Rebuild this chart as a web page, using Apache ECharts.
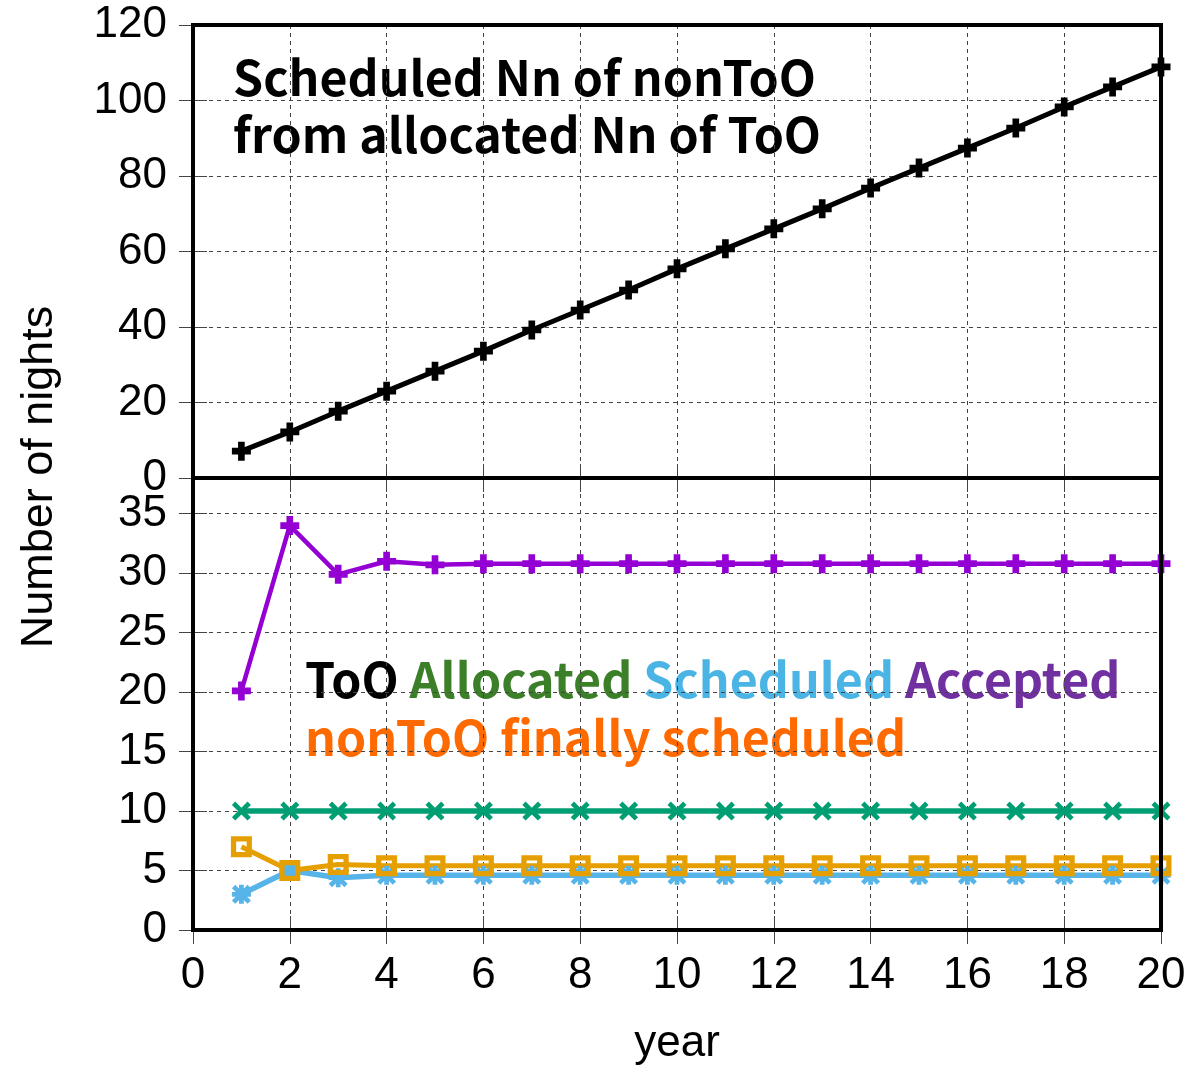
<!DOCTYPE html>
<html>
<head>
<meta charset="utf-8">
<script src="https://cdn.jsdelivr.net/npm/echarts@6/dist/echarts.min.js"></script>
<style>html,body{margin:0;padding:0;background:#fff;}#chart{width:1194px;height:1067px;}</style>
</head>
<body>
<div id="chart"></div>
<script>
// ---- data ----
const years = [1,2,3,4,5,6,7,8,9,10,11,12,13,14,15,16,17,18,19,20];
const nonTooFromToo = [7.1,12.2,17.7,23.0,28.3,33.6,39.2,44.5,49.8,55.4,60.7,66.0,71.3,76.8,82.1,87.4,92.7,98.3,103.6,108.9];
const tooAllocated = [10,10,10,10,10,10,10,10,10,10,10,10,10,10,10,10,10,10,10,10];
const tooScheduled = [3.0,5.0,4.4,4.6,4.6,4.6,4.6,4.6,4.6,4.6,4.6,4.6,4.6,4.6,4.6,4.6,4.6,4.6,4.6,4.6];
const tooAccepted = [20.1,34.0,29.9,31.0,30.7,30.8,30.8,30.8,30.8,30.8,30.8,30.8,30.8,30.8,30.8,30.8,30.8,30.8,30.8,30.8];
const nonTooFinal = [7.0,5.0,5.5,5.4,5.4,5.4,5.4,5.4,5.4,5.4,5.4,5.4,5.4,5.4,5.4,5.4,5.4,5.4,5.4,5.4];
const xTicks = {min:0, max:20, interval:2};
const yTopTicks = {min:0, max:120, interval:20};
const yBotTicks = {min:0, max:38, interval:5};

const pairs = arr => years.map((y,i)=>[y,arr[i]]);

const PLUS = 'path://M6.5,0 L13.5,0 L13.5,6.5 L20,6.5 L20,13.5 L13.5,13.5 L13.5,20 L6.5,20 L6.5,13.5 L0,13.5 L0,6.5 L6.5,6.5 Z';
const CROSS = 'path://M0,3.5 L3.5,0 L10,6.5 L16.5,0 L20,3.5 L13.5,10 L20,16.5 L16.5,20 L10,13.5 L3.5,20 L0,16.5 L6.5,10 Z';
const STAR = 'path://M7.5,0 L12.5,0 L12.5,7.5 L20,7.5 L20,12.5 L12.5,12.5 L12.5,20 L7.5,20 L7.5,12.5 L0,12.5 L0,7.5 L7.5,7.5 Z M0,3.5 L3.5,0 L10,6.5 L16.5,0 L20,3.5 L13.5,10 L20,16.5 L16.5,20 L10,13.5 L3.5,20 L0,16.5 L6.5,10 Z';
const SQUARE = 'path://M0,0 L20,0 L20,20 L0,20 Z M5,5 L5,15 L15,15 L15,5 Z';

const tickFont = {fontFamily:'Liberation Sans', fontSize:44, color:'#000'};
const gridLine = {show:true, lineStyle:{color:'#444', width:1, type:[4,4]}};
const tick = {show:true, inside:true, length:14, lineStyle:{color:'#444', width:1}};

function xAx(gridIndex, pos, labels, split){
  return {type:'value', gridIndex, position:pos, min:xTicks.min, max:xTicks.max, interval:xTicks.interval,
    axisLine:{show:false}, axisTick:tick, splitLine: split?gridLine:{show:false},
    axisLabel: labels ? Object.assign({show:true, margin:24}, tickFont) : {show:false}};
}
function yAx(gridIndex, pos, t, labels, split, fmt){
  return {type:'value', gridIndex, position:pos, min:t.min, max:t.max, interval:t.interval,
    axisLine:{show:false}, axisTick:tick, splitLine: split?gridLine:{show:false},
    axisLabel: labels ? Object.assign({show:true, margin:26, showMaxLabel: fmt?false:true,
      formatter: fmt || (v=>String(v))}, tickFont) : {show:false}};
}

const xAxes = [xAx(0,'bottom',false,true), xAx(0,'top',false,false), xAx(1,'bottom',true,true), xAx(1,'top',false,false)];
xAxes[2].name = 'year';
xAxes[2].nameLocation = 'middle';
xAxes[2].nameGap = 92;
xAxes[2].nameTextStyle = {fontFamily:'Liberation Sans', fontSize:44, color:'#000'};

const yAxes = [yAx(0,'left',yTopTicks,true,true), yAx(0,'right',yTopTicks,false,false),
  yAx(1,'left',yBotTicks,true,true, v => (v%5===0 ? String(v) : '')), yAx(1,'right',yBotTicks,false,false)];

function line(name, data, color, sym, size, width, xi, yi){
  return {name, type:'line', xAxisIndex:xi, yAxisIndex:yi, data:pairs(data), symbol:sym, symbolSize:[size,size],
    showAllSymbol:true, lineStyle:{color, width}, itemStyle:{color}, animation:false, z:3};
}

const legendFont = {fontFamily:'Noto Sans CJK JP', fontWeight:'bold', fontSize:48.3};
const option = {
  backgroundColor:'#fff',
  animation:false,
  grid:[
    {left:193, right:33, top:25, height:453, show:true, borderColor:'#000', borderWidth:4, z:4},
    {left:193, right:33, top:478, bottom:137, show:true, borderColor:'#000', borderWidth:4, z:4}
  ],
  xAxis:xAxes,
  yAxis:yAxes,
  series:[
    line('Scheduled Nn of nonToO from allocated Nn of ToO', nonTooFromToo, '#000000', PLUS, 19, 5, 0, 0),
    line('Allocated', tooAllocated, '#009e73', CROSS, 19, 5.5, 2, 2),
    line('Scheduled', tooScheduled, '#56b4e9', STAR, 19, 5.5, 2, 2),
    line('Accepted', tooAccepted, '#9400d3', PLUS, 19, 4.5, 2, 2),
    line('nonToO finally scheduled', nonTooFinal, '#e69f00', SQUARE, 21, 5, 2, 2)
  ],
  graphic:[
    {type:'text', x:40, y:477, rotation:Math.PI/2, style:{text:'Number of nights', fontFamily:'Liberation Sans', fontSize:45, fill:'#000', align:'center', verticalAlign:'middle'}},
    {type:'text', x:233, y:78, style:Object.assign({text:'Scheduled Nn of nonToO', fill:'#000', align:'left', verticalAlign:'middle'}, legendFont)},
    {type:'text', x:233, y:135, style:Object.assign({text:'from allocated Nn of ToO', fill:'#000', align:'left', verticalAlign:'middle'}, legendFont)},
    {type:'text', x:305, y:680, style:Object.assign({text:'{a|ToO} {b|Allocated} {c|Scheduled} {d|Accepted}', align:'left', verticalAlign:'middle',
      rich:{a:Object.assign({fill:'#000'},legendFont), b:Object.assign({fill:'#3b8029'},legendFont), c:Object.assign({fill:'#4ab4e4'},legendFont), d:Object.assign({fill:'#7030a0'},legendFont)}}, legendFont)},
    {type:'text', x:305, y:738, style:Object.assign({text:'nonToO finally scheduled', fill:'#ff6a00', align:'left', verticalAlign:'middle'}, legendFont)}
  ]
};
const chart = echarts.init(document.getElementById('chart'), null, {renderer:'canvas'});
chart.setOption(option);
</script>
</body>
</html>
